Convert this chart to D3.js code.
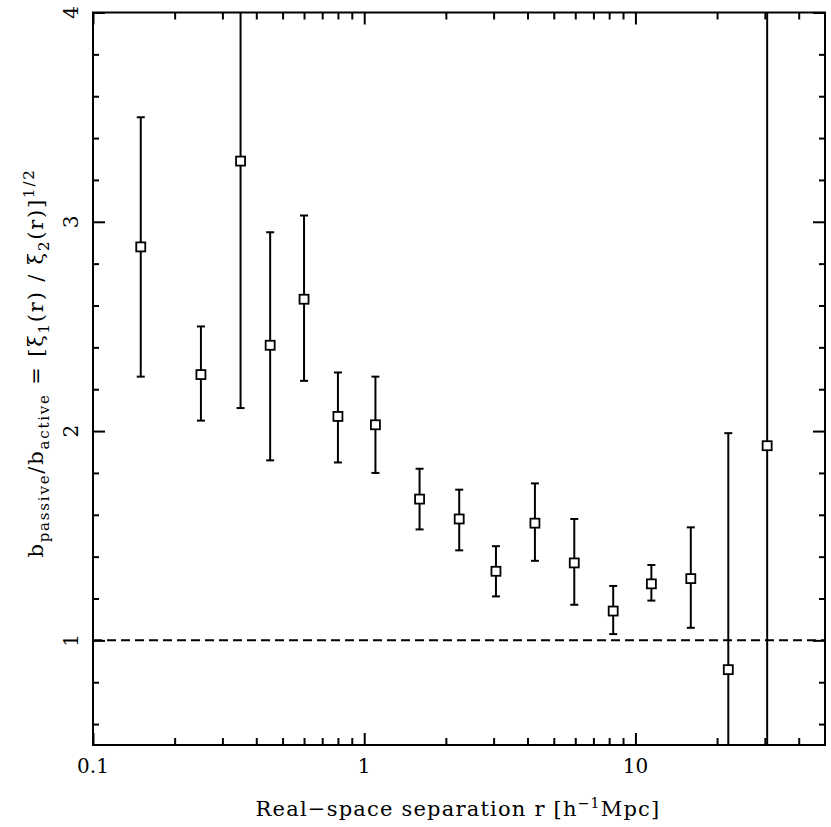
<!DOCTYPE html>
<html><head><meta charset="utf-8">
<script src="https://cdn.jsdelivr.net/npm/d3@7"></script>
<style>body{margin:0;background:#fff}svg{display:block}</style>
</head><body>
<script>
// Data
const sep = [0.15,0.25,0.35,0.45,0.60,0.80,1.1,1.6,2.24,3.06,4.26,5.95,8.28,11.45,16.0,22.0,30.6];
const ratio = [2.88,2.27,3.29,2.41,2.63,2.07,2.03,1.675,1.58,1.33,1.56,1.37,1.14,1.27,1.295,0.86,1.93];
const errHi = [3.50,2.50,4.60,2.95,3.03,2.28,2.26,1.82,1.72,1.45,1.75,1.58,1.26,1.36,1.54,1.99,4.60];
const errLo = [2.26,2.05,2.11,1.86,2.24,1.85,1.80,1.53,1.43,1.21,1.38,1.17,1.03,1.19,1.06,0.30,0.30];
const xMajor = [0.1,1,10];
const xMinor = [0.2,0.3,0.4,0.5,0.6,0.7,0.8,0.9,2,3,4,5,6,7,8,9,20,30,40];
const yMajor = [1,2,3,4];
const yMinor = [0.6,0.8,1.2,1.4,1.6,1.8,2.2,2.4,2.6,2.8,3.2,3.4,3.6,3.8];
const xLabels = ["0.1","1","10"];
const yLabels = ["1","2","3","4"];
const refLine = 1;

const W = 831, H = 827;
const L = 93, R = 825, T = 12.5, B = 745;
const x = d3.scaleLog().domain([0.1,50]).range([L,R]);
const y = d3.scaleLinear().domain([0.5,4]).range([B,T]);

const svg = d3.select("body").append("svg").attr("width",W).attr("height",H);
const font = "DejaVu Serif";

svg.append("defs").append("clipPath").attr("id","clip")
  .append("rect").attr("x",L).attr("y",T).attr("width",R-L).attr("height",B-T);

function styleAxis(g){
  g.select(".domain").remove();
  g.selectAll("line").attr("stroke","#000").attr("stroke-width",2);
  g.selectAll("text").remove();
}
// ticks (inward)
svg.append("g").attr("transform",`translate(0,${B})`).call(d3.axisBottom(x).tickValues(xMinor).tickSize(-7)).call(styleAxis);
svg.append("g").attr("transform",`translate(0,${B})`).call(d3.axisBottom(x).tickValues(xMajor).tickSize(-12)).call(styleAxis);
svg.append("g").attr("transform",`translate(0,${T})`).call(d3.axisTop(x).tickValues(xMinor).tickSize(-7)).call(styleAxis);
svg.append("g").attr("transform",`translate(0,${T})`).call(d3.axisTop(x).tickValues(xMajor).tickSize(-12)).call(styleAxis);
svg.append("g").attr("transform",`translate(${L},0)`).call(d3.axisLeft(y).tickValues(yMinor).tickSize(-6)).call(styleAxis);
svg.append("g").attr("transform",`translate(${L},0)`).call(d3.axisLeft(y).tickValues(yMajor).tickSize(-12)).call(styleAxis);
svg.append("g").attr("transform",`translate(${R},0)`).call(d3.axisRight(y).tickValues(yMinor).tickSize(-6)).call(styleAxis);
svg.append("g").attr("transform",`translate(${R},0)`).call(d3.axisRight(y).tickValues(yMajor).tickSize(-12)).call(styleAxis);

// frame
svg.append("rect").attr("x",L).attr("y",T).attr("width",R-L).attr("height",B-T)
  .attr("fill","none").attr("stroke","#000").attr("stroke-width",2);

// dashed reference line
svg.append("line").attr("x1",L).attr("x2",R).attr("y1",y(refLine)).attr("y2",y(refLine))
  .attr("stroke","#000").attr("stroke-width",2).attr("stroke-dasharray","9,5");

// tick labels
svg.selectAll(".xl").data(xMajor).enter().append("text")
  .attr("x",d=>x(d)).attr("y",773).attr("text-anchor","middle")
  .attr("font-family",font).attr("font-size",20).text((d,i)=>xLabels[i]);
svg.selectAll(".yl").data(yMajor).enter().append("text")
  .attr("transform",d=>`translate(78,${y(d)}) rotate(-90)`).attr("text-anchor","middle")
  .attr("font-family",font).attr("font-size",20).text((d,i)=>yLabels[i]);

// error bars and points
const pts = sep.map((s,i)=>({s, v:ratio[i], hi:errHi[i], lo:errLo[i]}));
const gp = svg.append("g").attr("clip-path","url(#clip)");
gp.selectAll(".eb").data(pts).enter().append("line")
  .attr("x1",d=>x(d.s)).attr("x2",d=>x(d.s)).attr("y1",d=>y(d.hi)).attr("y2",d=>y(d.lo))
  .attr("stroke","#000").attr("stroke-width",2);
const cap = 4;
gp.selectAll(".ch").data(pts).enter().append("line")
  .attr("x1",d=>x(d.s)-cap).attr("x2",d=>x(d.s)+cap).attr("y1",d=>y(d.hi)).attr("y2",d=>y(d.hi))
  .attr("stroke","#000").attr("stroke-width",2);
gp.selectAll(".cl").data(pts).enter().append("line")
  .attr("x1",d=>x(d.s)-cap).attr("x2",d=>x(d.s)+cap).attr("y1",d=>y(d.lo)).attr("y2",d=>y(d.lo))
  .attr("stroke","#000").attr("stroke-width",2);
const sq = 9;
gp.selectAll(".pt").data(pts).enter().append("rect")
  .attr("x",d=>x(d.s)-sq/2).attr("y",d=>y(d.v)-sq/2).attr("width",sq).attr("height",sq)
  .attr("fill","#fff").attr("stroke","#000").attr("stroke-width",1.8);

// x axis title
const xt = svg.append("text").attr("x",458).attr("y",816).attr("text-anchor","middle")
  .attr("font-family",font).attr("font-size",21).attr("letter-spacing",1.2);
xt.append("tspan").text("Real\u2212space separation r [h");
xt.append("tspan").attr("font-size",14).attr("dy",-8).text("\u22121");
xt.append("tspan").attr("dy",8).text("Mpc]");

// y axis title
const yt = svg.append("text").attr("transform",`translate(43,363) rotate(-90)`).attr("text-anchor","middle")
  .attr("font-family",font).attr("font-size",21).attr("letter-spacing",1.8);
yt.append("tspan").text("b");
yt.append("tspan").attr("font-size",15).attr("dy",6).text("passive");
yt.append("tspan").attr("dy",-6).text("/b");
yt.append("tspan").attr("font-size",15).attr("dy",6).text("active");
yt.append("tspan").attr("dy",-6).text(" = [\u03be");
yt.append("tspan").attr("font-size",15).attr("dy",6).text("1");
yt.append("tspan").attr("dy",-6).text("(r)  /  \u03be");
yt.append("tspan").attr("font-size",15).attr("dy",6).text("2");
yt.append("tspan").attr("dy",-6).text("(r)]");
yt.append("tspan").attr("font-size",15).attr("dy",-9).text("1/2");
</script>
</body></html>
